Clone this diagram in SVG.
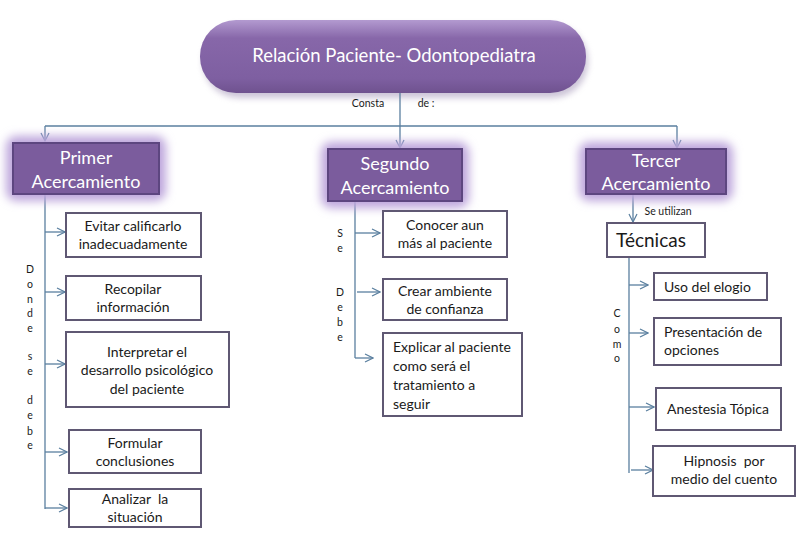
<svg xmlns="http://www.w3.org/2000/svg" width="797" height="541" viewBox="0 0 797 541">
<defs>
<linearGradient id="pillGrad" x1="0" y1="0" x2="0" y2="1">
<stop offset="0" stop-color="#b39ad0"/>
<stop offset="0.25" stop-color="#8767a9"/>
<stop offset="0.8" stop-color="#7e5fa1"/>
<stop offset="1" stop-color="#6f528f"/>
</linearGradient>
<filter id="glow" x="-30%" y="-40%" width="160%" height="180%">
<feGaussianBlur stdDeviation="5"/>
</filter>
<filter id="shadow" x="-10%" y="-20%" width="120%" height="150%">
<feGaussianBlur stdDeviation="3"/>
</filter>
<marker id="arr" viewBox="0 0 10 10" refX="9" refY="5" markerWidth="10" markerHeight="10" markerUnits="userSpaceOnUse" orient="auto">
<path d="M1,1 L9,5 L1,9" fill="none" stroke="#5a7f9f" stroke-width="1.2"/>
</marker>
</defs>
<style>
.conn{stroke:#5a7f9f;stroke-width:1.3;fill:none}
.ca{marker-end:url(#arr)}
.halo{fill:#bda6dc;filter:url(#glow)}
.main{fill:#7b5c9d;stroke:#5d4680;stroke-width:2}
.mt{font-family:Lato,"Open Sans",sans-serif;font-size:18px;fill:#ffffff;text-anchor:middle}
.box{fill:#ffffff;stroke:#5f5873;stroke-width:2}
.t{font-family:Lato,"Open Sans",sans-serif;font-size:14px;fill:#1a1a1a;text-anchor:middle;white-space:pre}
.tl{text-anchor:start}
.big{font-size:19px}
.s{font-family:Lato,"Open Sans",sans-serif;font-size:10.5px;fill:#1a1a1a;text-anchor:middle}
</style>
<rect width="797" height="541" fill="#ffffff"/>

<g id="root">
<rect x="203" y="25" width="385" height="73" rx="36" fill="#9a8ab0" opacity="0.5" filter="url(#shadow)"/>
<rect x="200" y="20" width="386" height="73" rx="36" fill="url(#pillGrad)"/>
<text x="394" y="62" font-family="Lato,'Open Sans',sans-serif" font-size="18.5" fill="#ffffff" text-anchor="middle">Relación Paciente- Odontopediatra</text>
</g>

<g id="connectors">
<path class="conn" d="M400,93 V126"/>
<path class="conn" d="M45,126 H677"/>
<path class="conn ca" d="M45,126 V141"/>
<path class="conn ca" d="M400,126 V148"/>
<path class="conn ca" d="M677,126 V148"/>
<path class="conn" d="M45,194 V509"/>
<path class="conn ca" d="M45,232 H65"/>
<path class="conn ca" d="M45,292 H65"/>
<path class="conn ca" d="M45,364 H65"/>
<path class="conn ca" d="M45,452 H67"/>
<path class="conn ca" d="M45,508 H67"/>
<path class="conn" d="M355,201 V358"/>
<path class="conn ca" d="M355,233 H380"/>
<path class="conn ca" d="M357,292 H380"/>
<path class="conn ca" d="M355,358 H373"/>
<path class="conn ca" d="M633,194 V222"/>
<path class="conn" d="M629,257 V473"/>
<path class="conn ca" d="M629,285 H648"/>
<path class="conn ca" d="M629,333 H648"/>
<path class="conn ca" d="M629,407 H654"/>
<path class="conn ca" d="M631,470 H653"/>
<text class="s" x="368" y="107">Consta</text>
<text class="s" x="426" y="107">de :</text>
<text class="s" x="668" y="215">Se utilizan</text>
<g class="s">
<text x="30" y="273">D</text><text x="30" y="288">o</text><text x="30" y="303">n</text><text x="30" y="317">d</text><text x="30" y="332">e</text>
<text x="30" y="360">s</text><text x="30" y="375">e</text>
<text x="30" y="404">d</text><text x="30" y="419">e</text><text x="30" y="435">b</text><text x="30" y="449">e</text>
<text x="340" y="237">S</text><text x="340" y="252">e</text>
<text x="340" y="296">D</text><text x="340" y="311">e</text><text x="340" y="326">b</text><text x="340" y="341">e</text>
<text x="617" y="317">C</text><text x="617" y="333">o</text><text x="617" y="348">m</text><text x="617" y="362">o</text>
</g>
</g>

<g id="primer">
<rect class="halo" x="6" y="136" width="160" height="65" rx="10"/>
<rect class="main" x="13" y="143" width="146" height="51"/>
<text class="mt" x="86" y="164">Primer</text>
<text class="mt" x="86" y="188">Acercamiento</text>
</g>
<g id="segundo">
<rect class="halo" x="321" y="142" width="148" height="66" rx="10"/>
<rect class="main" x="328" y="149" width="134" height="52"/>
<text class="mt" x="395" y="170">Segundo</text>
<text class="mt" x="395" y="194">Acercamiento</text>
</g>
<g id="tercer">
<rect class="halo" x="579" y="142" width="154" height="59" rx="10"/>
<rect class="main" x="586" y="149" width="140" height="45"/>
<text class="mt" x="656" y="167">Tercer</text>
<text class="mt" x="656" y="190">Acercamiento</text>
</g>

<g id="evitar"><rect class="box" x="66" y="213" width="135" height="44"/>
<text class="t" x="133" y="231">Evitar calificarlo</text><text class="t" x="133" y="249">inadecuadamente</text></g>
<g id="recopilar"><rect class="box" x="66" y="276" width="135" height="44"/>
<text class="t" x="133" y="294">Recopilar</text><text class="t" x="133" y="312">información</text></g>
<g id="interpretar"><rect class="box" x="66" y="332" width="163" height="75"/>
<text class="t" x="147" y="357">Interpretar el</text><text class="t" x="147" y="375">desarrollo psicológico</text><text class="t" x="147" y="394">del paciente</text></g>
<g id="formular"><rect class="box" x="69" y="430" width="132" height="43"/>
<text class="t" x="135" y="448">Formular</text><text class="t" x="135" y="466">conclusiones</text></g>
<g id="analizar"><rect class="box" x="69" y="489" width="132" height="38"/>
<text class="t" x="135" y="504">Analizar  la</text><text class="t" x="135" y="522">situación</text></g>

<g id="conocer"><rect class="box" x="383" y="211" width="124" height="46"/>
<text class="t" x="445" y="230">Conocer aun</text><text class="t" x="445" y="248">más al paciente</text></g>
<g id="crear"><rect class="box" x="383" y="279" width="124" height="41"/>
<text class="t" x="445" y="296">Crear ambiente</text><text class="t" x="445" y="314">de confianza</text></g>
<g id="explicar"><rect class="box" x="383" y="333" width="139" height="83"/>
<text class="t tl" x="393" y="352">Explicar al paciente</text><text class="t tl" x="393" y="371">como será el</text><text class="t tl" x="393" y="390">tratamiento a</text><text class="t tl" x="393" y="409">seguir</text></g>

<g id="tecnicas"><rect class="box" x="607" y="223" width="98" height="34"/>
<text class="t tl big" x="616" y="247">Técnicas</text></g>
<g id="uso"><rect class="box" x="654" y="273" width="113" height="27"/>
<text class="t tl" x="664" y="292">Uso del elogio</text></g>
<g id="presentacion"><rect class="box" x="654" y="318" width="127" height="47"/>
<text class="t tl" x="664" y="337">Presentación de</text><text class="t tl" x="664" y="355">opciones</text></g>
<g id="anestesia"><rect class="box" x="656" y="388" width="125" height="42"/>
<text class="t" x="718" y="414">Anestesia Tópica</text></g>
<g id="hipnosis"><rect class="box" x="653" y="446" width="142" height="50"/>
<text class="t" x="724" y="466">Hipnosis  por</text><text class="t" x="724" y="484">medio del cuento</text></g>
</svg>
